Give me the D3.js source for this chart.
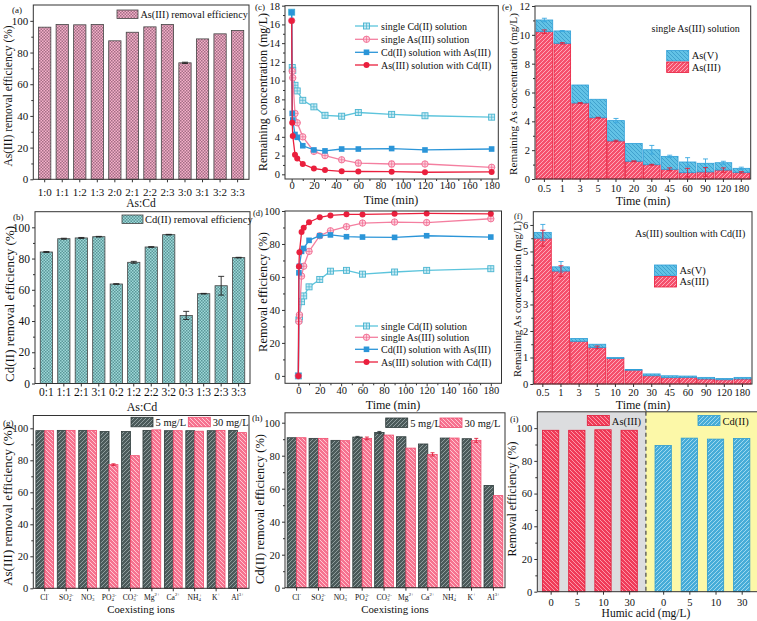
<!DOCTYPE html>
<html><head><meta charset="utf-8">
<script src="https://cdn.jsdelivr.net/npm/d3@7"></script>
<style>body{margin:0;background:#fff}svg{display:block}</style>
</head><body><script>
// ---------------- DATA ----------------
const ratioAs = ["1:0","1:1","1:2","1:3","2:0","2:1","2:2","2:3","3:0","3:1","3:2","3:3"];
const asRemoval = [96.0,97.7,97.5,97.7,87.4,92.8,96.2,97.7,73.5,88.6,91.8,93.9];
const asRemovalErr = [0,0,0,0,0,0,0,0,0.4,0,0,0];
const ratioCd = ["0:1","1:1","2:1","3:1","0:2","1:2","2:2","3:2","0:3","1:3","2:3","3:3"];
const cdRemoval = [84.2,92.7,93.2,94.0,63.7,77.6,87.4,95.3,43.6,57.5,62.6,80.6];
const cdRemovalErr = [0.3,0.3,0.3,0.2,0.2,0.6,0.2,0.2,2.6,0.2,6.0,0.2];

const timeMin = [0,0.5,1,3,5,10,20,30,45,60,90,120,180];
const seriesNames = ["single Cd(II) solution","single As(III) solution","Cd(II) solution with As(III)","As(III) solution with Cd(II)"];
const concSingleCd = [17.3,11.4,11.1,9.5,8.9,7.9,7.2,6.3,6.2,6.6,6.4,6.25,6.1];
const concSingleAs = [16.4,11.0,10.3,6.5,5.5,4.0,2.45,2.0,1.55,1.2,1.1,1.1,0.75];
const concSingleAsErr = [0,0,0,0,0,0,0,0,0,0.3,0.3,0.15,0.1];
const concCdWithAs = [17.3,6.5,5.8,4.25,3.95,3.05,2.6,2.5,2.7,2.7,2.75,2.6,2.7];
const concAsWithCd = [16.4,5.5,4.1,2.1,1.7,1.1,0.62,0.45,0.32,0.3,0.28,0.22,0.25];
const effSingleCd = [0,34,35.8,45,48.5,54,58.5,63.5,64,61.7,63,64,65];
const effSingleAs = [0,33,37,60.5,66.5,75.5,85,88,90.5,92.7,93.3,93,95.3];
const effCdWithAs = [0,62.5,66.5,75.5,77.3,82.2,85,85.5,84.4,84.2,84,85,84.2];
const effAsWithCd = [0,66.3,75,87.2,89.8,93.2,96.2,97.3,98,97.9,98.3,98.5,98.3];

const timeCats = ["0.5","1","3","5","10","20","30","45","60","90","120","180"];
const singleAs3 = [10.22,9.41,5.27,4.25,2.64,1.23,0.99,0.67,0.44,0.49,0.62,0.46];
const singleAs5 = [0.81,0.86,1.25,1.28,1.41,1.24,1.04,0.90,0.74,0.60,0.51,0.28];
const singleAs3Err = [0.12,0.05,0.03,0.03,0.05,0.03,0.03,0.1,0.3,0.3,0.15,0.05];
const singleTotErr = [0.12,0.03,0,0,0.15,0,0.3,0.08,0.3,0.3,0.1,0.08];
const withCdAs3 = [5.5,4.26,1.61,1.38,0.96,0.52,0.31,0.24,0.25,0.19,0.16,0.19];
const withCdAs5 = [0.22,0.16,0.11,0.12,0.04,0.03,0.07,0.07,0.05,0.06,0.05,0.06];
const withCdAs3Err = [0.3,0.2,0,0.05,0,0,0,0,0,0,0,0];
const withCdTotErr = [0.3,0.2,0,0,0,0,0,0,0,0,0,0];

const ionBase = ["Cl","SO","NO","PO","CO","Mg","Ca","NH","K","Al"];
const ionSub  = ["","4","3","4","3","","","4","",""];
const ionSup  = ["-","2-","-","3-","2-","2+","2+","+","+","3+"];
const concLevels = ["5 mg/L","30 mg/L"];
const asIon5  = [98.5,98.7,98.7,98.0,98.0,98.7,98.5,98.5,98.5,98.7];
const asIon30 = [98.5,98.7,98.7,77.3,82.9,99.0,98.5,98.2,98.7,97.3];
const asIon30Err = [0,0,0,0.5,0,0,0,0,0,0];
const cdIon5  = [90.9,90.5,89.3,91.3,94.1,91.5,87.1,90.7,90.3,62.0];
const cdIon5Err = [0,0,0,0.4,0.6,0,0,0,0,0];
const cdIon30 = [90.9,90.5,89.1,90.5,92.5,84.6,80.8,90.7,89.3,55.8];
const cdIon30Err = [0,0,0,0.8,0,0,1.0,0,1.2,0];

const humicLevels = ["0","5","10","30"];
const humicAs = [98.7,98.7,99.0,98.7];
const humicCd = [89.4,93.9,93.3,93.7];

// ---------------- SETUP ----------------
const W = 757, H = 621;
const FONT = "'Liberation Serif','Times New Roman',serif";
const AX = "#333";
const svg = d3.select("body").append("svg").attr("width", W).attr("height", H)
  .attr("font-family", FONT).style("background", "#fff");
const defs = svg.append("defs");

function checker(id, base, dark, op) {
  const p = defs.append("pattern").attr("id", id).attr("patternUnits", "userSpaceOnUse").attr("width", 3).attr("height", 3);
  p.append("rect").attr("width", 3).attr("height", 3).attr("fill", base);
  p.append("rect").attr("width", 1.5).attr("height", 1.5).attr("fill", dark).attr("opacity", op);
  p.append("rect").attr("x", 1.5).attr("y", 1.5).attr("width", 1.5).attr("height", 1.5).attr("fill", dark).attr("opacity", op);
}
function hatch(id, base, line, op, dir, sz, sw) {
  const p = defs.append("pattern").attr("id", id).attr("patternUnits", "userSpaceOnUse").attr("width", sz).attr("height", sz);
  p.append("rect").attr("width", sz).attr("height", sz).attr("fill", base);
  const h = sz / 2;
  const d = dir > 0
    ? `M0,${sz}L${sz},0M${-h},${h}L${h},${-h}M${h},${sz + h}L${sz + h},${h}`
    : `M0,0L${sz},${sz}M${-h},${h}L${h},${sz + h}M${h},${-h}L${sz + h},${h}`;
  p.append("path").attr("d", d).attr("stroke", line).attr("stroke-width", sw).attr("opacity", op);
}
checker("pA", "#f4b0c9", "#6e4358", 0.6);
checker("pB", "#9ed8d8", "#2d6a6e", 0.6);
hatch("hAs3", "#f5506c", "#ffc0cc", 0.8, 1, 4, 1);
hatch("hAs5", "#62c2e6", "#2586b8", 0.55, -1, 4, 1);
hatch("h5", "#4b5a5a", "#a0aeae", 0.8, 1, 4, 1);
hatch("h30", "#f6728f", "#ffd6de", 0.85, -1, 4, 1);
hatch("hiAs", "#f03b58", "#ffb0be", 0.8, -1, 4, 1);
hatch("hiCd", "#46acd8", "#b4e4f4", 0.8, 1, 4, 1);

function frame(P) {
  svg.append("rect").attr("x", P.x0).attr("y", P.y0).attr("width", P.x1 - P.x0).attr("height", P.y1 - P.y0)
    .attr("fill", "none").attr("stroke", AX).attr("stroke-width", 1);
}
function clean(g, fs) {
  g.attr("font-family", FONT).attr("font-size", fs);
  g.select(".domain").remove();
  g.selectAll(".tick line").attr("stroke", AX);
  g.selectAll(".tick text").attr("fill", "#111");
}
function yAxis(P, y, major, minor, fs, fmt) {
  const g = svg.append("g").attr("transform", `translate(${P.x0},0)`)
    .call(d3.axisLeft(y).tickValues(major).tickSize(3).tickPadding(2).tickFormat(fmt || d3.format("d")));
  clean(g, fs);
  if (minor) {
    const m = svg.append("g").attr("transform", `translate(${P.x0},0)`)
      .call(d3.axisLeft(y).tickValues(minor).tickSize(2).tickFormat(""));
    clean(m, fs);
  }
}
function xAxis(P, x, vals, fs, baseline, fmt, minor) {
  const pad = baseline - P.y1 - 3 - 0.71 * fs;
  let ax = d3.axisBottom(x).tickSize(3).tickPadding(pad);
  if (vals) ax = ax.tickValues(vals);
  if (fmt) ax = ax.tickFormat(fmt);
  const g = svg.append("g").attr("transform", `translate(0,${P.y1})`).call(ax);
  clean(g, fs);
  if (minor) {
    const m = svg.append("g").attr("transform", `translate(0,${P.y1})`)
      .call(d3.axisBottom(x).tickValues(minor).tickSize(2).tickFormat(""));
    clean(m, fs);
  }
}
function text(x, y, s, fs, anchor, rot) {
  const t = svg.append("text").attr("font-size", fs).attr("fill", "#111").text(s)
    .attr("text-anchor", anchor || "start");
  if (rot) t.attr("transform", `translate(${x},${y}) rotate(-90)`).attr("text-anchor", "middle").attr("dominant-baseline", "central");
  else t.attr("x", x).attr("y", y);
  return t;
}
function errBar(x, yTop, yBot, color, w) {
  svg.append("path").attr("d", `M${x},${yTop}V${yBot}M${x - w},${yTop}H${x + w}M${x - w},${yBot}H${x + w}`)
    .attr("stroke", color).attr("stroke-width", 0.9).attr("fill", "none");
}

// ---------------- PANEL A ----------------
const PA = {x0: 33.3, x1: 249, y0: 5, y1: 179.3};
{
  const x = d3.scaleBand().domain(ratioAs).range([PA.x0, PA.x1]).paddingInner(0.3).paddingOuter(0.3);
  const y = d3.scaleLinear().domain([0, 110]).range([PA.y1, PA.y0]);
  svg.append("g").selectAll("rect").data(ratioAs).join("rect")
    .attr("x", d => x(d)).attr("width", x.bandwidth())
    .attr("y", (d, i) => y(asRemoval[i])).attr("height", (d, i) => y(0) - y(asRemoval[i]))
    .attr("fill", "url(#pA)").attr("stroke", "#444").attr("stroke-width", 0.8);
  ratioAs.forEach((d, i) => { if (asRemovalErr[i]) errBar(x(d) + x.bandwidth() / 2, y(asRemoval[i] + asRemovalErr[i]), y(asRemoval[i] - asRemovalErr[i]), "#222", 3); });
  frame(PA);
  yAxis(PA, y, [0, 20, 40, 60, 80, 100], [10, 30, 50, 70, 90], 11);
  xAxis(PA, x, null, 11, 196);
  text(141, 207, "As:Cd", 11.5, "middle");
  text(8, 96, "As(III) removal efficiency (%)", 11.5, null, true);
  text(12, 13, "(a)", 9);
  svg.append("rect").attr("x", 117).attr("y", 10).attr("width", 21).attr("height", 8.5).attr("fill", "url(#pA)").attr("stroke", "#444").attr("stroke-width", 0.8);
  text(140.5, 18, "As(III) removal efficiency", 10.2);
}

// ---------------- PANEL B ----------------
const PB = {x0: 35, x1: 250, y0: 211.7, y1: 383.5};
{
  const x = d3.scaleBand().domain(ratioCd).range([PB.x0, PB.x1]).paddingInner(0.3).paddingOuter(0.3);
  const y = d3.scaleLinear().domain([0, 110]).range([PB.y1, PB.y0]);
  svg.append("g").selectAll("rect").data(ratioCd).join("rect")
    .attr("x", d => x(d)).attr("width", x.bandwidth())
    .attr("y", (d, i) => y(cdRemoval[i])).attr("height", (d, i) => y(0) - y(cdRemoval[i]))
    .attr("fill", "url(#pB)").attr("stroke", "#444").attr("stroke-width", 0.8);
  ratioCd.forEach((d, i) => { if (cdRemovalErr[i]) errBar(x(d) + x.bandwidth() / 2, y(cdRemoval[i] + cdRemovalErr[i]), y(cdRemoval[i] - cdRemovalErr[i]), "#222", 3); });
  frame(PB);
  yAxis(PB, y, [0, 20, 40, 60, 80, 100], [10, 30, 50, 70, 90], 11.5);
  xAxis(PB, x, null, 11.5, 396);
  text(142, 411, "As:Cd", 12, "middle");
  text(9, 304, "Cd(II) removal efficiency (%)", 13, null, true);
  text(13, 220, "(b)", 9);
  svg.append("rect").attr("x", 122).attr("y", 215).attr("width", 21).attr("height", 8.5).attr("fill", "url(#pB)").attr("stroke", "#444").attr("stroke-width", 0.8);
  text(145, 223, "Cd(II) removal efficiency", 10.5);
}

// ---------------- LINE PANELS C & D ----------------
const lineStyles = [
  {line: "#5cc4dc", stroke: "#48b4d0", fill: "#c9ebf4", kind: "osq"},
  {line: "#f47fa0", stroke: "#f06a90", fill: "#fdd3df", kind: "oci"},
  {line: "#2b95d8", stroke: "#2b8fd4", fill: "#2b95d8", kind: "sq"},
  {line: "#ea1f3d", stroke: "#e41a38", fill: "#ea1f3d", kind: "ci"}
];
function marker(g, s, x, y) {
  if (s.kind === "osq") {
    g.append("rect").attr("x", x - 3).attr("y", y - 3).attr("width", 6).attr("height", 6).attr("fill", s.fill).attr("stroke", s.stroke).attr("stroke-width", 0.9);
    g.append("path").attr("d", `M${x - 3},${y}H${x + 3}M${x},${y - 3}V${y + 3}`).attr("stroke", s.stroke).attr("stroke-width", 0.7);
  } else if (s.kind === "oci") {
    g.append("circle").attr("cx", x).attr("cy", y).attr("r", 3.2).attr("fill", s.fill).attr("stroke", s.stroke).attr("stroke-width", 0.9);
    g.append("path").attr("d", `M${x - 3.2},${y}H${x + 3.2}M${x},${y - 3.2}V${y + 3.2}`).attr("stroke", s.stroke).attr("stroke-width", 0.7);
  } else if (s.kind === "sq") {
    g.append("rect").attr("x", x - 2.8).attr("y", y - 2.8).attr("width", 5.6).attr("height", 5.6).attr("fill", s.fill);
  } else {
    g.append("circle").attr("cx", x).attr("cy", y).attr("r", 3).attr("fill", s.fill);
  }
}
function linePanel(P, x, y, seriesArr, legY, errs) {
  seriesArr.forEach((vals, k) => {
    const s = lineStyles[k];
    const pts = timeMin.map((t, i) => [t, vals[i]]);
    svg.append("path").datum(pts).attr("d", d3.line().x(d => x(d[0])).y(d => y(d[1])))
      .attr("fill", "none").attr("stroke", s.line).attr("stroke-width", 1.3);
    if (errs && errs[k]) pts.forEach((p, i) => { if (errs[k][i]) errBar(x(p[0]), y(p[1] + errs[k][i]), y(p[1] - errs[k][i]), s.line, 2.5); });
    const g = svg.append("g");
    pts.forEach(p => marker(g, s, x(p[0]), y(p[1])));
  });
  frame(P);
  const lg = svg.append("g");
  seriesNames.forEach((n, k) => {
    const s = lineStyles[k];
    lg.append("path").attr("d", `M355,${legY[k]}H378`).attr("stroke", s.line).attr("stroke-width", 1.3);
    marker(lg, s, 366.5, legY[k]);
    lg.append("text").attr("x", 381).attr("y", legY[k] + 3.5).attr("font-size", 10).attr("fill", "#111").text(n);
  });
}
const PC = {x0: 285, x1: 498.3, y0: 5.67, y1: 179};
{
  const x = d3.scaleLinear().domain([-6, 186]).range([PC.x0, PC.x1]);
  const y = d3.scaleLinear().domain([-0.5, 18]).range([PC.y1, PC.y0]);
  linePanel(PC, x, y, [concSingleCd, concSingleAs, concCdWithAs, concAsWithCd], [26, 39.3, 52.3, 65], [null, concSingleAsErr, null, null]);
  yAxis(PC, y, d3.range(0, 19, 2), d3.range(1, 18, 2), 10.5);
  xAxis(PC, x, d3.range(0, 181, 20), 10.5, 189, null, d3.range(10, 181, 20));
  text(391, 204, "Time (min)", 12, "middle");
  text(262.5, 92, "Remaining concentration (mg/L)", 12, null, true);
  text(255, 10, "(c)", 9);
}
const PD = {x0: 285, x1: 501.5, y0: 211, y1: 383.3};
{
  const x = d3.scaleLinear().domain([-12.5, 190]).range([PD.x0, PD.x1]);
  const y = d3.scaleLinear().domain([-4.5, 100]).range([PD.y1, PD.y0]);
  linePanel(PD, x, y, [effSingleCd, effSingleAs, effCdWithAs, effAsWithCd], [326, 337.3, 349.3, 362]);
  yAxis(PD, y, d3.range(0, 101, 20), d3.range(10, 100, 20), 10.5);
  xAxis(PD, x, d3.range(0, 181, 20), 10.5, 394, null, d3.range(10, 181, 20));
  text(393, 409, "Time (min)", 12, "middle");
  text(262.5, 292, "Removal efficiency (%)", 12.5, null, true);
  text(253, 216, "(d)", 8.5);
}

// ---------------- STACKED PANELS E & F ----------------
function stackPanel(P, ymax, yMajor, yMinor, fmt, as3, as5, e3, eT, note, noteX, noteY, legX, legY, xBase, titleX) {
  const x = d3.scaleBand().domain(timeCats).range([P.x0, P.x1]).paddingInner(0.07).paddingOuter(0.06);
  const y = d3.scaleLinear().domain([0, ymax]).range([P.y1, P.y0]);
  const rows = timeCats.map((t, i) => ({t, as3: as3[i], as5: as5[i]}));
  const st = d3.stack().keys(["as3", "as5"])(rows);
  const fills = ["url(#hAs3)", "url(#hAs5)"], strokes = ["#e8193a", "#2e9fd8"];
  st.forEach((layer, k) => {
    svg.append("g").selectAll("rect").data(layer).join("rect")
      .attr("x", d => x(d.data.t)).attr("width", x.bandwidth())
      .attr("y", d => y(d[1])).attr("height", d => y(d[0]) - y(d[1]))
      .attr("fill", fills[k]).attr("stroke", strokes[k]).attr("stroke-width", 0.8);
  });
  rows.forEach((r, i) => {
    const cx = x(r.t) + x.bandwidth() / 2;
    const tot = r.as3 + r.as5;
    if (eT[i]) errBar(cx, y(tot + eT[i]), y(tot - eT[i]), "#3aa8e0", 2.5);
    if (e3[i]) errBar(cx, y(r.as3 + e3[i]), y(r.as3 - e3[i]), "#e0203c", 2.5);
  });
  frame(P);
  yAxis(P, y, yMajor, yMinor, 10.5, fmt);
  xAxis(P, x, null, 10.5, xBase);
  text(titleX, xBase + 13, "Time (min)", 12, "middle");
  text(noteX, noteY, note, 10);
  [["As(V)", "url(#hAs5)", "#2e9fd8"], ["As(III)", "url(#hAs3)", "#e8193a"]].forEach((l, k) => {
    svg.append("rect").attr("x", legX).attr("y", legY + k * 11.5).attr("width", 22).attr("height", 10.5)
      .attr("fill", l[1]).attr("stroke", l[2]).attr("stroke-width", 0.8);
    text(legX + 25, legY + k * 11.5 + 8.5, l[0], 10.5);
  });
}
const PE = {x0: 535, x1: 750.7, y0: 6, y1: 179};
stackPanel(PE, 12, d3.range(0, 13, 2), d3.range(1, 12, 2), d3.format("d"), singleAs3, singleAs5, singleAs3Err, singleTotErr,
  "single As(III) solution", 651.5, 32, 666.7, 50.5, 192, 643);
text(512.5, 94, "Remaining As concentration (mg/L)", 11.2, null, true);
text(502, 10, "(e)", 9);
const PF = {x0: 533.3, x1: 752, y0: 211.7, y1: 384};
stackPanel(PF, 6.5, d3.range(0, 7, 1), d3.range(0.5, 6.5, 1), d3.format("d"), withCdAs3, withCdAs5, withCdAs3Err, withCdTotErr,
  "As(III) soultion with Cd(II)", 635, 237, 654.5, 265, 396, 643);
text(516.5, 299, "Remaining As concentration (mg/L)", 10.8, null, true);
text(514, 219, "(f)", 8.5);

// ---------------- ION PANELS G & H ----------------
function ionPanel(P, ymax, v5, v30, e5, e30, padI, padO, xBase, titleBase, titleX, legX, legY) {
  const x = d3.scaleBand().domain(ionBase).range([P.x0, P.x1]).paddingInner(padI).paddingOuter(padO);
  const xs = d3.scaleBand().domain(concLevels).range([0, x.bandwidth()]);
  const y = d3.scaleLinear().domain([0, ymax]).range([P.y1, P.y0]);
  const series = [[v5, e5, "url(#h5)", "#2f3b3b", "#2f3b3b"], [v30, e30, "url(#h30)", "#f04d6e", "#e0203c"]];
  series.forEach((s, k) => {
    svg.append("g").selectAll("rect").data(ionBase).join("rect")
      .attr("x", d => x(d) + xs(concLevels[k])).attr("width", xs.bandwidth())
      .attr("y", (d, i) => y(s[0][i])).attr("height", (d, i) => y(0) - y(s[0][i]))
      .attr("fill", s[2]).attr("stroke", s[3]).attr("stroke-width", 0.8);
    ionBase.forEach((d, i) => { if (s[1][i]) errBar(x(d) + xs(concLevels[k]) + xs.bandwidth() / 2, y(s[0][i] + s[1][i]), y(s[0][i] - s[1][i]), s[4], 2); });
  });
  frame(P);
  yAxis(P, y, d3.range(0, 101, 20), d3.range(10, 100, 20), 10.5);
  const tg = svg.append("g").attr("transform", `translate(0,${P.y1})`)
    .call(d3.axisBottom(x).tickSize(3).tickFormat(""));
  clean(tg, 10);
  ionBase.forEach((b, i) => {
    const t = svg.append("text").attr("x", x(b) + x.bandwidth() / 2).attr("y", xBase).attr("text-anchor", "middle")
      .attr("font-size", 7.6).attr("fill", "#111");
    t.append("tspan").text(b);
    if (ionSub[i]) t.append("tspan").attr("font-size", 4.8).attr("dy", 1.2).text(ionSub[i]);
    t.append("tspan").attr("font-size", 4.8).attr("dy", ionSub[i] ? -4.2 : -3.2).attr("dx", ionSub[i] ? -1.6 : 0).text(ionSup[i]);
  });
  text(titleX, titleBase, "Coexisting ions", 10.8, "middle");
  concLevels.forEach((c, k) => {
    const lx = legX[k];
    svg.append("rect").attr("x", lx).attr("y", legY).attr("width", 22).attr("height", 9.5)
      .attr("fill", series[k][2]).attr("stroke", series[k][3]).attr("stroke-width", 0.8);
    text(lx + 24.5, legY + 8.5, c, 10.5);
  });
}
const PG = {x0: 33.3, x1: 249, y0: 415.5, y1: 588.3};
ionPanel(PG, 108, asIon5, asIon30, new Array(10).fill(0), asIon30Err, 0.17, 0.12, 599.6, 612.5, 141, [131, 188.3], 417.3);
text(7.5, 506, "As(III) removal efficiency (%)", 13, null, true);
text(3, 426, "(g)", 9);
const PH = {x0: 285, x1: 505, y0: 412.8, y1: 587.7};
ionPanel(PH, 106, cdIon5, cdIon30, cdIon5Err, cdIon30Err, 0.14, 0.1, 599.6, 613, 395, [385.7, 440], 418);
text(260, 509, "Cd(II) removal efficiency (%)", 12.5, null, true);
text(252, 421, "(h)", 9);

// ---------------- PANEL I ----------------
const PI = {x0: 537.3, x1: 757.4, y0: 411.8, y1: 591.7};
{
  const posAs = humicLevels.map((d, i) => i + 1);
  const posCd = humicLevels.map((d, i) => i + 5.3);
  const divider = 4.64;
  const x = d3.scaleLinear().domain([0.49, 8.9]).range([PI.x0, PI.x1]);
  const y = d3.scaleLinear().domain([0, 110]).range([PI.y1, PI.y0]);
  svg.append("rect").attr("x", PI.x0).attr("y", PI.y0).attr("width", x(divider) - PI.x0).attr("height", PI.y1 - PI.y0).attr("fill", "#dcdddf");
  svg.append("rect").attr("x", x(divider)).attr("y", PI.y0).attr("width", PI.x1 - x(divider)).attr("height", PI.y1 - PI.y0).attr("fill", "#fcf8a8");
  const bw = 16.3;
  svg.append("g").selectAll("rect").data(humicAs).join("rect")
    .attr("x", (d, i) => x(posAs[i]) - bw / 2).attr("width", bw).attr("y", d => y(d)).attr("height", d => y(0) - y(d))
    .attr("fill", "url(#hiAs)").attr("stroke", "#e01a38").attr("stroke-width", 0.8);
  svg.append("g").selectAll("rect").data(humicCd).join("rect")
    .attr("x", (d, i) => x(posCd[i]) - bw / 2).attr("width", bw).attr("y", d => y(d)).attr("height", d => y(0) - y(d))
    .attr("fill", "url(#hiCd)").attr("stroke", "#2c9ad0").attr("stroke-width", 0.8);
  svg.append("line").attr("x1", x(divider)).attr("x2", x(divider)).attr("y1", PI.y0).attr("y2", PI.y1)
    .attr("stroke", "#444").attr("stroke-width", 1.2).attr("stroke-dasharray", "4,3");
  svg.append("path").attr("d", `M${PI.x1},${PI.y0}H${PI.x0}V${PI.y1}H${PI.x1}`).attr("fill", "none").attr("stroke", AX);
  yAxis(PI, y, d3.range(0, 101, 20), d3.range(10, 100, 20), 10.5);
  xAxis(PI, x, posAs.concat(posCd), 10.5, 606, (d, i) => humicLevels[i % 4]);
  text(646, 617, "Humic acid (mg/L)", 11.5, "middle");
  text(512, 499, "Removal efficiency (%)", 12, null, true);
  text(510, 422, "(i)", 9);
  [["As(III)", "url(#hiAs)", "#e01a38", 587.3], ["Cd(II)", "url(#hiCd)", "#2c9ad0", 698]].forEach(l => {
    svg.append("rect").attr("x", l[3]).attr("y", 415.5).attr("width", 22).attr("height", 10)
      .attr("fill", l[1]).attr("stroke", l[2]).attr("stroke-width", 0.8);
    text(l[3] + 24.5, 424.5, l[0], 10.5);
  });
}
</script></body></html>
